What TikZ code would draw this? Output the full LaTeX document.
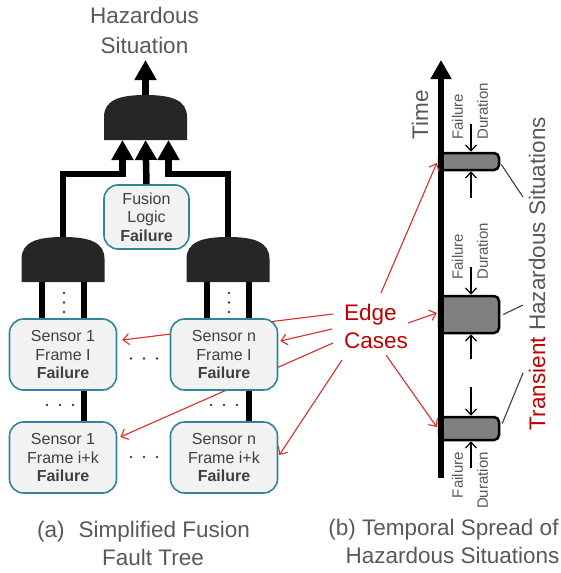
\documentclass[tikz,border=0pt]{standalone}
\usepackage{fontspec}
\setmainfont{Liberation Sans}
\usetikzlibrary{arrows.meta,calc,backgrounds}

\definecolor{inkgray}{HTML}{595959}
\definecolor{boxtext}{HTML}{3F3F3F}
\definecolor{boxedge}{HTML}{31849B}
\definecolor{boxfill}{HTML}{F2F2F2}
\definecolor{gatefill}{HTML}{262626}
\definecolor{darkred}{HTML}{C00000}
\definecolor{linkred}{HTML}{DD2C2C}
\definecolor{bargray}{HTML}{808080}

\begin{document}
\begin{tikzpicture}[x=1pt,y=-1pt,
  event/.style={draw=boxedge, line width=1.6pt, fill=boxfill, rounded corners=14pt,
    minimum width=107pt, minimum height=71pt, inner sep=0pt, align=center,
    text=boxtext, font=\fontsize{16}{18.5}\selectfont},
  wire/.style={line width=6.5pt, black},
  feed/.style={wire, -{Triangle[width=21pt,length=20pt]}},
  link/.style={linkred, line width=1.1pt, -{Straight Barb[length=6pt,width=11pt]}},
  spanarrow/.style={black, line width=1.2pt, -{Straight Barb[length=6pt,width=11pt]}},
  barbox/.style={draw=black, line width=2.5pt, fill=bargray, rounded corners=5pt,
    minimum width=60pt, inner sep=0pt},
  bigtext/.style={font=\fontsize{22.5}{28}\selectfont, inner sep=0pt},
  durtext/.style={font=\fontsize{15}{25}\selectfont, text=inkgray, inner sep=0pt, rotate=90},
  leader/.style={draw=boxtext, line width=1.1pt},
  andgate/.pic={
    \fill[gatefill] (-41.5,0) -- (-41.5,-23)
      .. controls (-41.5,-40) and (-26,-45) .. (0,-45)
      .. controls (26,-45) and (41.5,-40) .. (41.5,-23) -- (41.5,0) -- cycle;
    \coordinate (-out) at (0,-45);
    \coordinate (-a) at (-23,0);
    \coordinate (-b) at (0,0);
    \coordinate (-c) at (23,0);
    \coordinate (-l) at (-21,0);
    \coordinate (-r) at (21,0);
  }
]
\begin{scope}[on background layer]
  \fill[white] (0,0) rectangle (561,573);
\end{scope}
\useasboundingbox (0,0) rectangle (561,573);

% ---------- fault tree ----------
\pic (g0) at (145.5,140) {andgate};
\pic (g1) at (63,282) {andgate};
\pic (g2) at (228,282) {andgate};

% the base anchor of a two-line node sits on its last line
\node[bigtext, text=inkgray, anchor=base, align=center, font=\fontsize{22.5}{30}\selectfont]
  (title) at (144.5,53) {Hazardous\\Situation};
\coordinate (hz) at (145.5,60);

\node[event, minimum width=85pt, minimum height=64pt] (fl) at (146.5,217)
  {Fusion\\Logic\\\textbf{Failure}};
\node[event] (s11) at (63,354.5)  {Sensor 1\\Frame I\\\textbf{Failure}};
\node[event] (sn1) at (224,354.5) {Sensor n\\Frame I\\\textbf{Failure}};
\node[event] (s1k) at (63,457.5)  {Sensor 1\\Frame i+k\\\textbf{Failure}};
\node[event] (snk) at (224,457.5) {Sensor n\\Frame i+k\\\textbf{Failure}};

\draw[feed] (g0-out) -- (hz);
\draw[feed] (fl.north) -- (g0-b);
\draw[feed] (g1-out) |- ($(g0-a)+(0,34)$) -- (g0-a);
\draw[feed] (g2-out) |- ($(g0-c)+(0,34)$) -- (g0-c);

\begin{scope}[on background layer]
  \draw[wire] (g1-l) -- (g1-l |- s11.north);
  \draw[wire] (g1-r) -- (g1-r |- s1k.north);
  \draw[wire] (g2-l) -- (g2-l |- sn1.north);
  \draw[wire] (g2-r) -- (g2-r |- snk.north);
\end{scope}

% ellipsis dots
\foreach \x in {64,229} \foreach \y in {293,302.5,312}
  \fill[boxtext] (\x,\y) circle (1.4);
\foreach \y in {358.5,457} \foreach \x in {131,144,157}
  \fill[boxtext] (\x,\y) circle (1.4);
\foreach \x in {47,60,73,211,224,237}
  \fill[boxtext] (\x,405) circle (1.4);

% ---------- time line ----------
\node[barbox, minimum height=17pt] (bar1) at (469,161.5) {};
\node[barbox, minimum height=37pt] (bar2) at (469,314.5) {};
\node[barbox, minimum height=23pt] (bar3) at (469,428.5) {};

\coordinate (t0) at (441,478);
\coordinate (t1) at (441,60);
\draw[line width=6.5pt, -{Triangle[width=20pt,length=19pt]}] (t0) -- (t1);

\node[bigtext, text=inkgray, rotate=90] (tl) at (420,115) {Time};

\draw[spanarrow] ($(bar1.north)+(2,-28)$) -- ($(bar1.north)+(2,0)$);
\draw[spanarrow] ($(bar1.south)+(2,27)$) -- ($(bar1.south)+(2,0)$);
\draw[spanarrow] ($(bar2.north)+(2,-28)$) -- ($(bar2.north)+(2,0)$);
\draw[spanarrow] ($(bar2.south)+(2,25)$) -- ($(bar2.south)+(2,0)$);
\draw[spanarrow] ($(bar3.north)+(2,-29)$) -- ($(bar3.north)+(2,0)$);
\draw[spanarrow] ($(bar3.south)+(2,27)$) -- ($(bar3.south)+(2,0)$);

\node[durtext, anchor=west, align=left]  (fd1) at (470,140) {Failure\\Duration};
\node[durtext, anchor=west, align=left]  (fd2) at (470,280) {Failure\\Duration};
\node[durtext, anchor=east, align=right] (fd3) at (470,452) {Failure\\Duration};

\node[bigtext, text=inkgray, rotate=90] (ths) at (537,273.5)
  {\textcolor{darkred}{Transient} Hazardous Situations};
\coordinate (h1) at (523,197);
\coordinate (h2) at (523,305);
\coordinate (h3) at (523,373);
\draw[leader] ($(bar1.east)+(1,3)$) -- (h1);
\draw[leader] ($(bar2.east)+(3,0)$) -- (h2);
\draw[leader] ($(bar3.east)+(2,-5)$) -- (h3);

% ---------- edge cases ----------
\node[bigtext, text=darkred, anchor=base west, align=left, font=\fontsize{22.5}{28}\selectfont]
  (ec) at (344,348) {Edge\\Cases};
\coordinate (e1) at (333,314);
\coordinate (e2) at (332,329);
\coordinate (e3) at (333,343);
\coordinate (e4) at (342,360);
\coordinate (e5) at (408,323);
\coordinate (e6) at (386,355);
\coordinate (e7) at (381,293);
\begin{scope}[on background layer]
  \draw[link] (e1) -- ($(s11.east)+(5,-14.5)$);
  \draw[link] (e2) -- ($(sn1.east)+(2,-13.5)$);
  \draw[link] (e3) -- ($(s1k.east)+(3,-20.5)$);
  \draw[link] (e4) -- ($(snk.east)+(1,-2.5)$);
\end{scope}
\draw[link] (e5) -- ($(bar2.west)+(-1,-1.5)$);
\draw[link] (e6) -- ($(bar3.west)+(-1,-1.5)$);
\draw[link] (e7) -- ($(bar1.west)+(-1,1.5)$);

% ---------- captions ----------
\node[bigtext, text=inkgray, anchor=base] (capa1) at (143.5,537) {(a)\hspace{0.62em}Simplified Fusion};
\node[bigtext, text=inkgray, anchor=base] (capa2) at (153,565) {Fault Tree};
\node[bigtext, text=inkgray, anchor=base] (capb1) at (443.5,535) {(b) Temporal Spread of};
\node[bigtext, text=inkgray, anchor=base] (capb2) at (452.5,563) {Hazardous Situations};
\end{tikzpicture}
\end{document}
